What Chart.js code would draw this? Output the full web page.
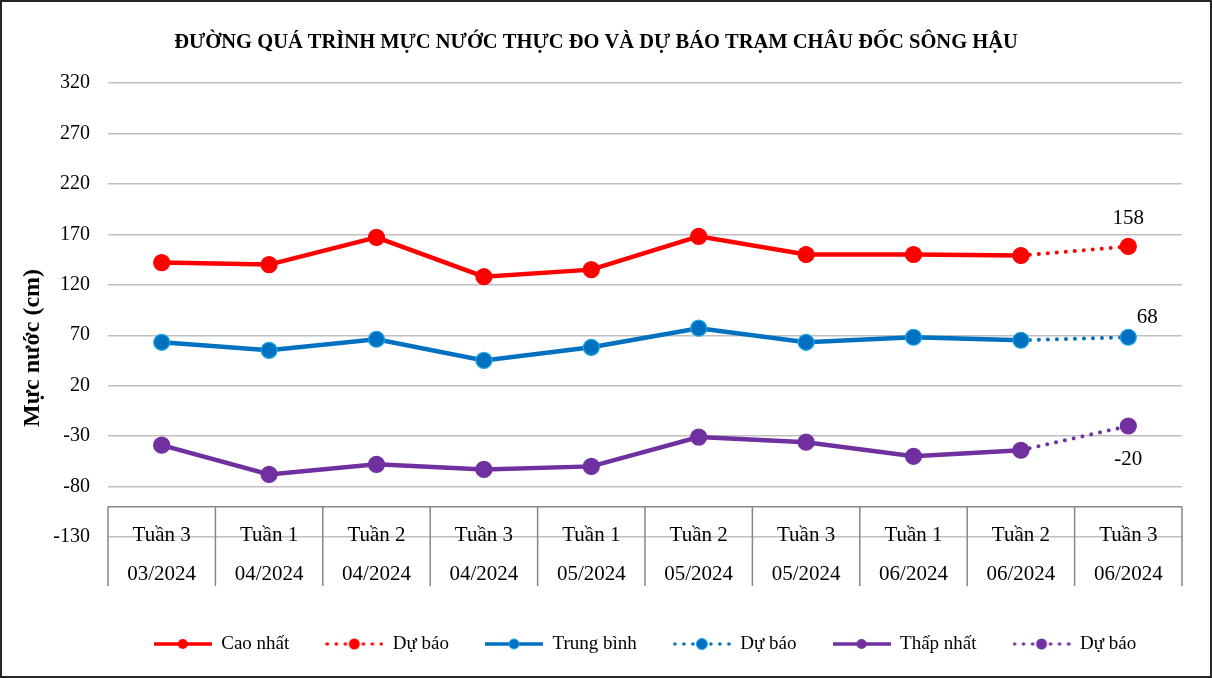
<!DOCTYPE html>
<html lang="vi">
<head>
<meta charset="utf-8">
<title>Mực nước Châu Đốc</title>
<script src="https://cdn.jsdelivr.net/npm/chart.js@4.4.1/dist/chart.umd.min.js"></script>
<style>
  html, body { margin: 0; padding: 0; background: #fff; }
  #wrap { width: 1212px; height: 678px; }
</style>
</head>
<body>
<div id="wrap"><canvas id="chart" width="1212" height="678"></canvas></div>
<script>
// categories: two rows under the axis
const tuan = ['Tuần 3', 'Tuần 1', 'Tuần 2', 'Tuần 3', 'Tuần 1', 'Tuần 2', 'Tuần 3', 'Tuần 1', 'Tuần 2', 'Tuần 3'];
const thang = ['03/2024', '04/2024', '04/2024', '04/2024', '05/2024', '05/2024', '05/2024', '06/2024', '06/2024', '06/2024'];

// measured water levels (cm)
const caoNhat = [142, 140, 167, 128, 135, 168, 150, 150, 149];
const trungBinh = [63, 55, 66, 45, 58, 77, 63, 68, 65];
const thapNhat = [-39, -68, -58, -63, -60, -31, -36, -50, -44];

// forecast for the next week
const duBaoCao = 158;
const duBaoTB = 68;
const duBaoThap = -20;

// y axis
const yMin = -130, yMax = 320, yStep = 50;
const axisCross = -100;

const serif = '"Liberation Serif", "Times New Roman", serif';
const RED = '#FF0000', BLUE = '#0070C0', BLUE_RING = '#1AA7E8', PURPLE = '#7030A0';

function forecastLine(actual, next) {
    const last = actual.length - 1;
    return tuan.map((_, i) => i === last ? actual[i] : (i === last + 1 ? next : null));
}

function legendSample(color, dotted, ring) {
    const c = document.createElement('canvas');
    c.width = 58; c.height = 14;
    const g = c.getContext('2d');
    g.fillStyle = color; g.strokeStyle = color;
    let r = 5;
    if (dotted) {
        [2, 11, 20, 38, 47, 56].forEach(x => {
            g.beginPath(); g.arc(x, 7, 1.8, 0, Math.PI * 2); g.fill();
        });
        r = 5.5;
    } else {
        g.lineWidth = 3.5;
        g.beginPath(); g.moveTo(0, 7); g.lineTo(58, 7); g.stroke();
    }
    g.beginPath(); g.arc(29, 7, r, 0, Math.PI * 2); g.fill();
    if (ring) { g.lineWidth = 1; g.strokeStyle = ring; g.stroke(); }
    return c;
}

function solidSet(label, data, color, ring) {
    return {
        label: label, data: data,
        borderColor: color, backgroundColor: color,
        borderWidth: 4.5, tension: 0,
        pointRadius: 8, pointHoverRadius: 8,
        pointBackgroundColor: color, pointBorderColor: ring || color, pointBorderWidth: 1.2,
        order: 1
    };
}

function dottedSet(label, data, color, ring) {
    return {
        label: label, data: data,
        borderColor: color, backgroundColor: color,
        borderWidth: 4, borderDash: [0.01, 9], borderCapStyle: 'round', tension: 0,
        pointRadius: ctx => ctx.dataIndex === tuan.length - 1 ? 8 : 0,
        pointBackgroundColor: color, pointBorderColor: ring || color, pointBorderWidth: 1.2,
        spanGaps: false,
        order: 2
    };
}

const datasets = [
    solidSet('Cao nhất', caoNhat, RED),
    dottedSet('Dự báo', forecastLine(caoNhat, duBaoCao), RED),
    solidSet('Trung bình', trungBinh, BLUE, BLUE_RING),
    dottedSet('Dự báo', forecastLine(trungBinh, duBaoTB), BLUE, BLUE_RING),
    solidSet('Thấp nhất', thapNhat, PURPLE),
    dottedSet('Dự báo', forecastLine(thapNhat, duBaoThap), PURPLE)
];
const samples = [
    legendSample(RED, false), legendSample(RED, true),
    legendSample(BLUE, false, BLUE_RING), legendSample(BLUE, true, BLUE_RING),
    legendSample(PURPLE, false), legendSample(PURPLE, true)
];

// category table under the plot, y title, forecast labels and the frame
const extras = {
    id: 'extras',
    afterDraw(chart) {
        const ctx = chart.ctx;
        const x = chart.scales.x, y = chart.scales.y;
        const area = chart.chartArea;
        const top = y.getPixelForValue(axisCross);
        const bottom = 586;

        ctx.save();
        ctx.strokeStyle = '#878787';
        ctx.lineWidth = 1.5;
        ctx.beginPath();
        ctx.moveTo(area.left, top); ctx.lineTo(area.right, top);
        for (let i = 0; i <= tuan.length; i++) {
            let px;
            if (i === 0) px = area.left;
            else if (i === tuan.length) px = area.right;
            else px = (x.getPixelForValue(i - 1) + x.getPixelForValue(i)) / 2;
            ctx.moveTo(px, top); ctx.lineTo(px, bottom);
        }
        ctx.stroke();

        ctx.fillStyle = '#000';
        ctx.font = '21px ' + serif;
        ctx.textAlign = 'center';
        ctx.textBaseline = 'alphabetic';
        tuan.forEach((t, i) => {
            const px = x.getPixelForValue(i);
            ctx.fillText(t, px, 541);
            ctx.fillText(thang[i], px, 580);
        });

        // axis title
        ctx.save();
        ctx.translate(33, 348);
        ctx.rotate(-Math.PI / 2);
        ctx.font = 'bold 24px ' + serif;
        ctx.textBaseline = 'middle';
        ctx.fillText('Mực nước (cm)', 0, 0);
        ctx.restore();

        // forecast value labels
        ctx.font = '21px ' + serif;
        const lbl = [[1, duBaoCao, 0, -22], [3, duBaoTB, 19, -14], [5, duBaoThap, 0, 39]];
        lbl.forEach(([ds, v, dx, dy]) => {
            const pt = chart.getDatasetMeta(ds).data[tuan.length - 1];
            ctx.fillText(String(v), pt.x + dx, pt.y + dy);
        });

        // outer frame
        ctx.strokeStyle = '#262626';
        ctx.lineWidth = 2;
        ctx.strokeRect(1, 1, chart.width - 2, chart.height - 2);
        ctx.restore();
    }
};

new Chart(document.getElementById('chart'), {
    type: 'line',
    data: { labels: tuan.map((t, i) => [t, thang[i]]), datasets: datasets },
    options: {
        responsive: false,
        animation: false,
        events: [],
        layout: { padding: { top: 0, left: 10, right: 30, bottom: 14.5 } },
        plugins: {
            title: {
                display: true,
                text: 'ĐƯỜNG QUÁ TRÌNH MỰC NƯỚC THỰC ĐO VÀ DỰ BÁO TRẠM CHÂU ĐỐC SÔNG HẬU',
                color: '#000',
                font: { family: serif, size: 20.5, weight: 'bold', lineHeight: 1.2 },
                padding: { top: 30.7, bottom: 27.7 }
            },
            legend: {
                position: 'bottom',
                fullSize: false,
                labels: {
                    usePointStyle: true,
                    pointStyleWidth: 58,
                    boxHeight: 19,
                    padding: 36,
                    color: '#000',
                    font: { family: serif, size: 19 },
                    generateLabels: chart => chart.data.datasets.map((d, i) => ({
                        text: d.label,
                        pointStyle: samples[i],
                        fillStyle: d.borderColor,
                        strokeStyle: d.borderColor,
                        lineWidth: 0,
                        fontColor: '#000',
                        hidden: false,
                        datasetIndex: i
                    }))
                }
            },
            tooltip: { enabled: false }
        },
        scales: {
            x: {
                offset: true,
                grid: { display: false },
                border: { display: false },
                ticks: { display: false },
                afterFit: s => { s.height = 61.5; }
            },
            y: {
                min: yMin, max: yMax,
                ticks: { stepSize: yStep, padding: 18, color: '#000', font: { family: serif, size: 20 } },
                grid: { color: '#bfbfbf', lineWidth: 1.4, drawTicks: false },
                border: { display: false },
                afterFit: s => { s.width = 98; }
            }
        }
    },
    plugins: [extras]
});
</script>
</body>
</html>
